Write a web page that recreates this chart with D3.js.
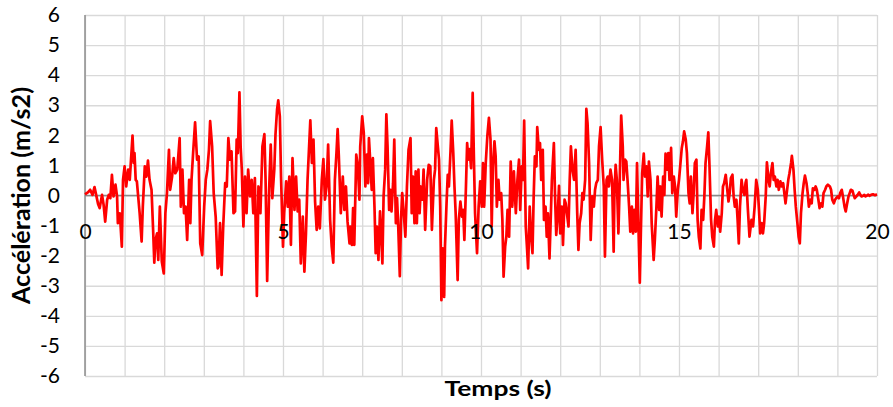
<!DOCTYPE html>
<html>
<head>
<meta charset="utf-8">
<script src="https://cdn.jsdelivr.net/npm/d3@7"></script>
<style>
  body { margin: 0; background: #fff; }
  svg { display: block; }
  text { font-family: Lato, "Liberation Sans", sans-serif; fill: #000; }
</style>
</head>
<body>
<svg id="chart" width="893" height="407"></svg>
<script>
// tick labels
var xLabels = [0, 5, 10, 15, 20];
var yLabels = [-6, -5, -4, -3, -2, -1, 0, 1, 2, 3, 4, 5, 6];
var xGrid = d3.range(0, 21, 1);

// accelerogram: [temps (s), accélération (m/s2)]
var trace0to3 = [
  [0.00,0.04],[0.08,0.11],[0.13,0.19],[0.19,0.02],[0.24,0.28],[0.29,-0.03],[0.33,-0.28],[0.37,-0.42],
  [0.43,0.02],[0.47,-0.31],[0.51,-0.87],[0.56,-0.14],[0.60,0.02],[0.64,-0.09],[0.68,0.69],[0.72,-0.03],
  [0.77,0.36],[0.81,-0.03],[0.83,-0.92],[0.88,-0.59],[0.93,-1.70],[0.96,0.52],[1.00,0.97],[1.04,0.30],
  [1.09,0.86],[1.13,0.52],[1.20,1.99],[1.23,1.08],[1.25,1.41],[1.28,0.52],[1.31,0.47],[1.35,-0.14],
  [1.38,-0.59],[1.43,-1.53],[1.46,-0.37],[1.51,0.97],[1.55,0.63],[1.59,1.16],[1.63,0.52],[1.68,0.19],
  [1.72,-1.14],[1.75,-2.23],[1.78,-1.48],[1.82,-1.26],[1.85,-2.14],[1.89,-0.37],[1.94,-2.20],[1.99,-2.59],
  [2.03,-0.59],[2.07,0.08],[2.12,1.52],[2.15,0.19],[2.20,0.63],[2.24,1.24],[2.28,0.74],[2.33,0.86],
  [2.39,1.91],[2.42,-0.37],[2.46,0.86],[2.50,-0.59],[2.54,-0.37],[2.58,-1.48],[2.63,0.52],[2.66,-0.92],
  [2.69,0.52],[2.73,1.41],[2.78,2.43],[2.83,1.19],[2.87,1.30],[2.91,-1.59],[2.96,-1.98],[3.01,-0.37],
  [3.05,0.52],[3.09,0.86],[3.13,1.52],[3.16,2.47],[3.21,1.63],[3.25,0.08],[3.30,-0.70],[3.35,-2.42]
];
var trace3to7 = [
  [3.37,-2.37],[3.41,-0.92],[3.45,-2.64],[3.49,-1.03],[3.54,0.41],[3.58,0.30],[3.62,1.91],[3.66,1.19],
  [3.70,1.47],[3.75,-0.59],[3.79,-0.53],[3.83,1.86],[3.86,1.41],[3.90,3.43],[3.93,1.63],[3.96,0.86],
  [4.00,-1.03],[4.04,0.63],[4.08,-0.59],[4.12,0.86],[4.17,-0.03],[4.21,0.52],[4.25,-0.59],[4.29,0.58],
  [4.34,-3.34],[4.38,0.30],[4.43,-0.59],[4.48,1.63],[4.53,2.04],[4.56,0.52],[4.60,-2.84],[4.65,0.19],
  [4.69,1.69],[4.73,-0.09],[4.78,0.86],[4.81,2.02],[4.85,2.86],[4.88,3.16],[4.92,2.63],[4.95,0.63],
  [5.00,-1.70],[5.03,-0.59],[5.08,0.47],[5.12,-0.37],[5.16,0.63],[5.20,-1.64],[5.24,1.24],[5.29,-0.48],
  [5.33,0.63],[5.37,-0.53],[5.41,-0.14],[5.45,-2.26],[5.50,-0.70],[5.54,-2.53],[5.58,-1.26],[5.62,0.52],
  [5.69,2.50],[5.73,1.08],[5.77,1.86],[5.81,-0.20],[5.85,-1.14],[5.89,-0.37],[5.93,-1.09],[5.98,0.52],
  [6.02,1.21],[6.06,-0.14],[6.10,0.30],[6.14,1.69],[6.19,-0.81],[6.23,-1.70],[6.27,-2.23],[6.31,0.52],
  [6.35,1.41],[6.38,2.21],[6.41,1.30],[6.46,-0.59],[6.51,0.63],[6.55,-0.48],[6.59,0.30],[6.63,-0.87],
  [6.68,-1.59]
];
var trace7to10 = [
  [6.70,-1.03],[6.74,-1.64],[6.77,-0.42],[6.80,-1.64],[6.85,1.36],[6.89,0.97],[6.93,-0.14],[6.95,1.63],
  [7.00,2.63],[7.04,2.08],[7.08,0.30],[7.12,1.36],[7.15,0.41],[7.17,1.91],[7.21,0.97],[7.24,0.19],
  [7.27,1.24],[7.31,-0.37],[7.34,-1.92],[7.37,-1.03],[7.41,-2.14],[7.45,-0.53],[7.48,-1.26],[7.51,-2.26],
  [7.54,-0.03],[7.58,0.86],[7.61,2.70],[7.64,1.63],[7.68,-0.48],[7.71,0.19],[7.74,-0.53],[7.78,0.41],
  [7.81,1.86],[7.85,-0.92],[7.88,-0.09],[7.91,-1.03],[7.95,-2.68],[7.98,-0.81],[8.01,0.08],[8.05,-0.59],
  [8.09,-1.37],[8.13,0.30],[8.17,1.52],[8.22,1.91],[8.25,-0.59],[8.28,0.63],[8.32,-0.92],[8.35,0.80],
  [8.38,-0.92],[8.42,0.86],[8.45,-0.59],[8.48,0.30],[8.52,-0.14],[8.55,0.86],[8.59,-1.14],[8.64,0.52],
  [8.68,1.02],[8.72,0.97],[8.76,-1.14],[8.81,0.52],[8.84,0.86],[8.87,2.24],[8.91,1.63],[8.94,1.19],
  [8.97,-0.37],[9.00,-3.48],[9.03,-1.76],[9.07,-3.37],[9.09,-1.70],[9.13,-0.26],[9.16,0.69],[9.19,0.30],
  [9.23,1.47],[9.26,2.49],[9.30,1.41],[9.33,0.30],[9.36,-0.59],[9.41,-2.81],[9.44,-0.81],[9.48,-0.20],
  [9.52,-0.70],[9.55,-0.48],[9.58,-1.48],[9.62,0.30],[9.65,1.74],[9.68,1.19],[9.71,1.54],[9.75,0.91],
  [9.79,3.41],[9.82,1.30],[9.85,-0.59],[9.90,-1.92],[9.94,-0.37],[9.98,0.47]
];
var trace10to13 = [
  [10.02,-0.37],[10.05,1.08],[10.08,-0.37],[10.12,1.08],[10.16,1.97],[10.20,2.58],[10.24,1.86],[10.27,-1.03],
  [10.30,0.97],[10.34,1.80],[10.37,1.30],[10.40,-0.37],[10.44,0.52],[10.47,-0.14],[10.51,0.08],[10.54,-0.81],
  [10.57,-2.70],[10.61,-1.70],[10.64,-1.37],[10.67,-0.48],[10.71,-1.37],[10.75,1.13],[10.79,-0.37],[10.83,0.80],
  [10.88,-0.59],[10.92,0.52],[10.96,1.19],[10.99,-0.48],[11.03,0.97],[11.06,0.52],[11.09,2.49],[11.13,-1.03],
  [11.16,-1.70],[11.19,-2.42],[11.23,-0.37],[11.26,-1.26],[11.30,-1.92],[11.33,-0.03],[11.36,1.30],[11.40,0.97],
  [11.42,2.27],[11.46,1.52],[11.49,1.74],[11.52,0.52],[11.56,1.52],[11.59,-0.81],[11.63,-0.37],[11.66,-1.37],
  [11.69,-0.59],[11.73,-2.09],[11.76,-0.81],[11.79,0.52],[11.84,1.74],[11.87,-0.03],[11.90,-1.31],[11.94,-0.59],
  [11.97,0.32],[12.00,-1.26],[12.04,-0.37],[12.07,-1.64],[12.11,-0.14],[12.14,-0.26],[12.17,-0.59],[12.21,-1.03],
  [12.24,0.52],[12.27,1.63],[12.31,0.86],[12.35,0.52],[12.39,1.52],[12.43,-0.59],[12.46,-1.81],[12.49,-0.92],
  [12.53,-0.59],[12.56,0.08],[12.59,-0.14],[12.63,0.52],[12.66,2.88],[12.69,2.41],[12.73,1.08],[12.77,-1.48],
  [12.81,-0.03],[12.85,-0.37],[12.88,0.19],[12.91,0.41],[12.95,0.52],[12.98,1.63],[13.02,2.27],[13.06,1.19],
  [13.10,0.30],[13.13,-2.03],[13.17,0.52],[13.20,0.63],[13.23,0.30],[13.27,0.86],[13.31,0.52],[13.35,-1.87]
];
var trace13to17 = [
  [13.37,0.08],[13.40,1.02],[13.43,0.52],[13.47,-1.26],[13.50,0.30],[13.54,2.66],[13.58,1.63],[13.60,0.52],
  [13.64,1.19],[13.67,1.13],[13.70,0.52],[13.74,-0.37],[13.77,-1.20],[13.81,-0.37],[13.84,-1.26],[13.87,-0.48],
  [13.91,-1.20],[13.94,1.08],[13.97,-0.70],[14.01,-2.90],[14.04,-1.03],[14.07,0.74],[14.11,1.39],[14.14,0.63],
  [14.18,0.97],[14.21,-0.03],[14.24,1.13],[14.28,0.52],[14.31,-0.92],[14.36,-2.14],[14.39,-1.48],[14.43,-0.37],
  [14.46,0.63],[14.50,-0.48],[14.53,0.30],[14.56,-0.70],[14.60,0.63],[14.63,0.02],[14.66,1.39],[14.70,0.86],
  [14.73,1.41],[14.76,0.52],[14.80,1.58],[14.83,0.08],[14.87,0.63],[14.90,0.30],[14.93,-0.70],[14.97,0.19],
  [15.00,0.52],[15.03,0.97],[15.07,1.58],[15.10,1.80],[15.13,2.13],[15.17,1.86],[15.20,1.41],[15.24,0.08],
  [15.27,-0.26],[15.30,0.63],[15.34,-0.59],[15.37,0.08],[15.40,1.08],[15.44,1.19],[15.47,-0.81],[15.50,-1.37],
  [15.54,-1.76],[15.57,-0.48],[15.61,-0.81],[15.64,-0.03],[15.67,1.08],[15.71,1.63],[15.74,2.10],[15.77,0.97],
  [15.81,-0.81],[15.84,-1.37],[15.88,-1.70],[15.91,-0.81],[15.94,-0.48],[15.98,-1.03],[16.01,-0.70],[16.04,-1.20],
  [16.08,-0.59],[16.11,0.30],[16.14,0.41],[16.18,0.69],[16.21,0.30],[16.25,-0.20],[16.28,0.08],[16.31,0.58],
  [16.35,0.69],[16.38,-0.03],[16.41,-0.37],[16.45,-0.14],[16.48,-0.81],[16.51,-1.59],[16.54,-0.37],[16.58,0.52],
  [16.61,0.19],[16.65,0.02],[16.68,0.41]
];
var trace17to20 = [
  [16.70,0.52],[16.74,-0.48],[16.78,-1.37],[16.83,-0.81],[16.87,-1.03],[16.91,-0.37],[16.95,0.52],[16.99,0.19],
  [17.02,-0.48],[17.05,-1.26],[17.09,-0.92],[17.12,-1.26],[17.15,-0.92],[17.19,-0.03],[17.22,1.10],[17.26,0.52],
  [17.29,0.30],[17.32,0.74],[17.36,1.08],[17.39,0.52],[17.42,0.63],[17.46,0.30],[17.49,0.52],[17.52,0.19],
  [17.56,0.47],[17.59,0.30],[17.63,0.41],[17.66,0.08],[17.69,-0.26],[17.73,0.19],[17.76,0.52],[17.79,0.74],
  [17.83,1.08],[17.85,1.32],[17.89,0.86],[17.92,0.19],[17.95,-0.37],[17.99,-0.92],[18.02,-1.37],[18.05,-1.59],
  [18.08,-0.59],[18.12,0.08],[18.15,0.41],[18.18,0.66],[18.22,0.41],[18.25,0.08],[18.28,-0.37],[18.32,-0.14],
  [18.35,-0.26],[18.38,0.24],[18.42,0.19],[18.45,0.30],[18.48,0.19],[18.52,-0.14],[18.55,-0.42],[18.59,-0.26],
  [18.62,-0.37],[18.65,0.08],[18.69,0.19],[18.72,0.30],[18.76,0.36],[18.81,0.30],[18.84,0.19],[18.87,-0.14],
  [18.91,-0.26],[18.94,-0.14],[18.97,-0.09],[19.01,-0.03],[19.04,-0.09],[19.07,0.08],[19.11,0.19],[19.14,-0.03],
  [19.18,-0.37],[19.21,-0.53],[19.24,-0.31],[19.28,-0.03],[19.31,0.08],[19.34,0.19],[19.38,0.16],[19.41,0.02],
  [19.44,-0.09],[19.48,-0.03],[19.51,0.02],[19.55,0.10],[19.58,0.02],[19.61,-0.03],[19.65,-0.01],[19.68,0.02],
  [19.71,-0.03],[19.75,0.00],[19.78,0.03],[19.81,-0.01],[19.85,0.02],[19.90,0.04],[19.95,0.01],[20.00,0.04]
];

var signal = trace0to3.concat(trace3to7, trace7to10, trace10to13, trace13to17, trace17to20);

var svg = d3.select("#chart");
var plotLeft = 85, plotRight = 877, plotTop = 15, plotBottom = 376;

var x = d3.scaleLinear().domain([0, 20]).range([plotLeft, plotRight]);
var y = d3.scaleLinear().domain([-6, 6]).range([plotBottom, plotTop]);

// horizontal gridlines
svg.append("g")
    .attr("transform", "translate(" + plotLeft + ",0)")
    .call(d3.axisLeft(y).tickValues(yLabels).tickSize(-(plotRight - plotLeft)).tickFormat(""))
    .call(g => g.select(".domain").remove())
    .selectAll("line").attr("stroke", "#d9d9d9").attr("stroke-width", 1.3);

// vertical gridlines
svg.append("g")
    .attr("transform", "translate(0," + plotBottom + ")")
    .call(d3.axisBottom(x).tickValues(xGrid).tickSize(-(plotBottom - plotTop)).tickFormat(""))
    .call(g => g.select(".domain").remove())
    .selectAll("line").attr("stroke", "#d9d9d9").attr("stroke-width", 1.3);

// left axis line
svg.append("line")
    .attr("x1", plotLeft).attr("x2", plotLeft)
    .attr("y1", plotTop).attr("y2", plotBottom)
    .attr("stroke", "#8c8c8c").attr("stroke-width", 1.5);

// zero axis line
svg.append("line")
    .attr("x1", plotLeft).attr("x2", plotRight)
    .attr("y1", y(0)).attr("y2", y(0))
    .attr("stroke", "#898989").attr("stroke-width", 1.5);

// the signal
var line = d3.line()
    .x(d => x(d[0]))
    .y(d => y(d[1]));

svg.append("path")
    .datum(signal)
    .attr("d", line)
    .attr("fill", "none")
    .attr("stroke", "#ff0000")
    .attr("stroke-width", 2.7)
    .attr("stroke-linejoin", "round");

// y tick labels (plain hyphen, like the original)
var yAxis = svg.append("g")
    .attr("transform", "translate(" + plotLeft + ",0)")
    .call(d3.axisLeft(y).tickValues(yLabels).tickSize(0).tickPadding(25).tickFormat(d => String(d)));
yAxis.select(".domain").remove();
yAxis.selectAll("text").attr("font-size", 21).attr("font-family", "Lato");

// x tick labels, hanging under the zero line
var xAxis = svg.append("g")
    .attr("transform", "translate(0," + y(0) + ")")
    .call(d3.axisBottom(x).tickValues(xLabels).tickSize(0).tickPadding(29).tickFormat(d => String(d)));
xAxis.select(".domain").remove();
xAxis.selectAll("text").attr("font-size", 21).attr("font-family", "Lato");

// axis titles (the original is a bit stretched sideways)
svg.append("text")
    .attr("transform", "translate(30," + ((plotTop + plotBottom) / 2) + ") scale(1.2,1) rotate(-90)")
    .attr("text-anchor", "middle")
    .attr("font-weight", "bold")
    .attr("font-size", 21)
    .attr("textLength", 217)
    .attr("lengthAdjust", "spacingAndGlyphs")
    .text("Accélération (m/s2)");

svg.append("text")
    .attr("x", 498)
    .attr("y", 396)
    .attr("text-anchor", "middle")
    .attr("font-weight", "bold")
    .attr("font-size", 21)
    .attr("textLength", 107)
    .attr("lengthAdjust", "spacingAndGlyphs")
    .text("Temps (s)");
</script>
</body>
</html>
